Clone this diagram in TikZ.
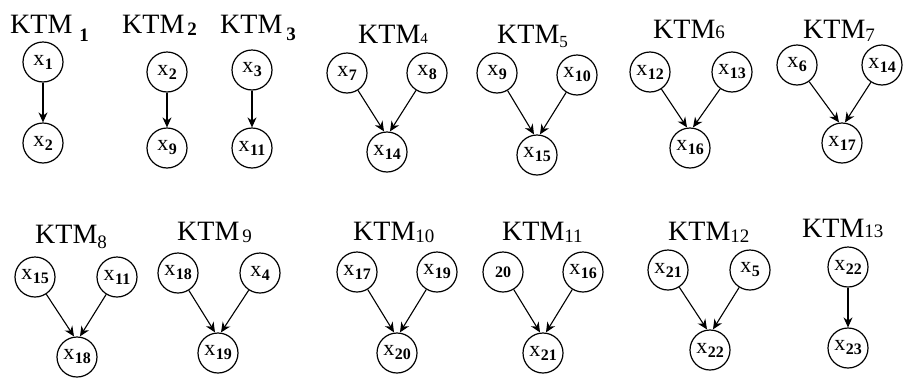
\documentclass[tikz,border=0pt]{standalone}
\usepackage{fontspec}
\setmainfont{Liberation Serif}
\usetikzlibrary{arrows.meta}
\tikzset{
  var/.style={circle, draw, line width=1.2pt, minimum size=40pt, inner sep=0pt,
    font=\fontsize{22}{22}\selectfont},
  lab/.style={font=\fontsize{28}{28}\selectfont, anchor=base west, inner sep=0pt},
  arr/.style={-{Stealth[length=10pt,width=9pt]}, line width=1.1pt},
}
\newcommand{\xv}[1]{x\kern0.5pt\raisebox{-4pt}{\fontsize{16}{16}\selectfont\bfseries #1}}
\newcommand{\ktmlab}[4]{KTM\kern#3\raisebox{#2}{\fontsize{#4}{#4}\selectfont #1}}
\begin{document}
\begin{tikzpicture}[x=1pt,y=-1pt]
\useasboundingbox (0,0) rectangle (905,378);
% ---- row 1 ----
\node[lab] (l1) at (10,33) {\ktmlab{\bfseries 1}{-8pt}{7pt}{19}};
\node[var] (k1a) at (43,62) {\xv{1}};
\node[var] (k1b) at (43,143) {\xv{2}};
\draw[arr] (k1a) -- (k1b);

\node[lab] (l2) at (122,33) {\ktmlab{\bfseries 2}{-2pt}{3pt}{19}};
\node[var] (k2a) at (167,72) {\xv{2}};
\node[var] (k2b) at (167,148) {\xv{9}};
\draw[arr] (k2a) -- (k2b);

\node[lab] (l3) at (220,33) {\ktmlab{\bfseries 3}{-7pt}{4pt}{19}};
\node[var] (k3a) at (252,70) {\xv{3}};
\node[var] (k3b) at (252,148) {\xv{11}};
\draw[arr] (k3a) -- (k3b);

\node[lab] (l4) at (358,43) {\ktmlab{4}{0pt}{0pt}{15}};
\node[var] (k4a) at (347,73) {\xv{7}};
\node[var] (k4b) at (427,73) {\xv{8}};
\node[var] (k4c) at (387,152) {\xv{14}};
\draw[arr] (k4a) -- ([xshift=-3pt]k4c.north);
\draw[arr] (k4b) -- ([xshift=3pt]k4c.north);

\node[lab] (l5) at (497,43) {\ktmlab{5}{-4pt}{0pt}{17}};
\node[var] (k5a) at (497,73) {\xv{9}};
\node[var] (k5b) at (577,75) {\xv{10}};
\node[var] (k5c) at (537,155) {\xv{15}};
\draw[arr] (k5a) -- ([xshift=-3pt]k5c.north);
\draw[arr] (k5b) -- ([xshift=3pt]k5c.north);

\node[lab] (l6) at (653,38) {\ktmlab{6}{0pt}{0pt}{19}};
\node[var] (k6a) at (650,72) {\xv{12}};
\node[var] (k6b) at (732,72) {\xv{13}};
\node[var] (k6c) at (690,148) {\xv{16}};
\draw[arr] (k6a) -- ([xshift=-3pt]k6c.north);
\draw[arr] (k6b) -- ([xshift=3pt]k6c.north);

\node[lab] (l7) at (803,38) {\ktmlab{7}{-3pt}{0pt}{19}};
\node[var] (k7a) at (797,65) {\xv{6}};
\node[var] (k7b) at (882,65) {\xv{14}};
\node[var] (k7c) at (842,143) {\xv{17}};
\draw[arr] (k7a) -- ([xshift=-3pt]k7c.north);
\draw[arr] (k7b) -- ([xshift=3pt]k7c.north);
% ---- row 2 ----
\node[lab] (l8) at (35,243) {\ktmlab{8}{-5pt}{0pt}{19}};
\node[var] (k8a) at (35,277) {\xv{15}};
\node[var] (k8b) at (117,277) {\xv{11}};
\node[var] (k8c) at (77,357) {\xv{18}};
\draw[arr] (k8a) -- ([xshift=-3pt]k8c.north);
\draw[arr] (k8b) -- ([xshift=3pt]k8c.north);

\node[lab] (l9) at (177,240) {\ktmlab{9}{-2pt}{3pt}{19}};
\node[var] (k9a) at (178,273) {\xv{18}};
\node[var] (k9b) at (260,273) {\xv{4}};
\node[var] (k9c) at (218,353) {\xv{19}};
\draw[arr] (k9a) -- ([xshift=-3pt]k9c.north);
\draw[arr] (k9b) -- ([xshift=3pt]k9c.north);

\node[lab] (l10) at (353,240) {\ktmlab{10}{-2pt}{0pt}{19}};
\node[var] (k10a) at (357,272) {\xv{17}};
\node[var] (k10b) at (437,272) {\xv{19}};
\node[var] (k10c) at (397,353) {\xv{20}};
\draw[arr] (k10a) -- ([xshift=-3pt]k10c.north);
\draw[arr] (k10b) -- ([xshift=3pt]k10c.north);

\node[lab] (l11) at (502,240) {\ktmlab{11}{-2pt}{0pt}{19}};
\node[var] (k11a) at (503,272) {\fontsize{16}{16}\selectfont\bfseries 20};
\node[var] (k11b) at (583,272) {\xv{16}};
\node[var] (k11c) at (543,353) {\xv{21}};
\draw[arr] (k11a) -- ([xshift=-3pt]k11c.north);
\draw[arr] (k11b) -- ([xshift=3pt]k11c.north);

\node[lab] (l12) at (668,240) {\ktmlab{12}{-2pt}{0pt}{19}};
\node[var] (k12a) at (668,270) {\xv{21}};
\node[var] (k12b) at (750,270) {\xv{5}};
\node[var] (k12c) at (710,350) {\xv{22}};
\draw[arr] (k12a) -- ([xshift=-3pt]k12c.north);
\draw[arr] (k12b) -- ([xshift=3pt]k12c.north);

\node[lab] (l13) at (802,237) {\ktmlab{13}{0pt}{0pt}{19}};
\node[var] (k13a) at (848,267) {\xv{22}};
\node[var] (k13b) at (848,348) {\xv{23}};
\draw[arr] (k13a) -- (k13b);
\end{tikzpicture}
\end{document}
